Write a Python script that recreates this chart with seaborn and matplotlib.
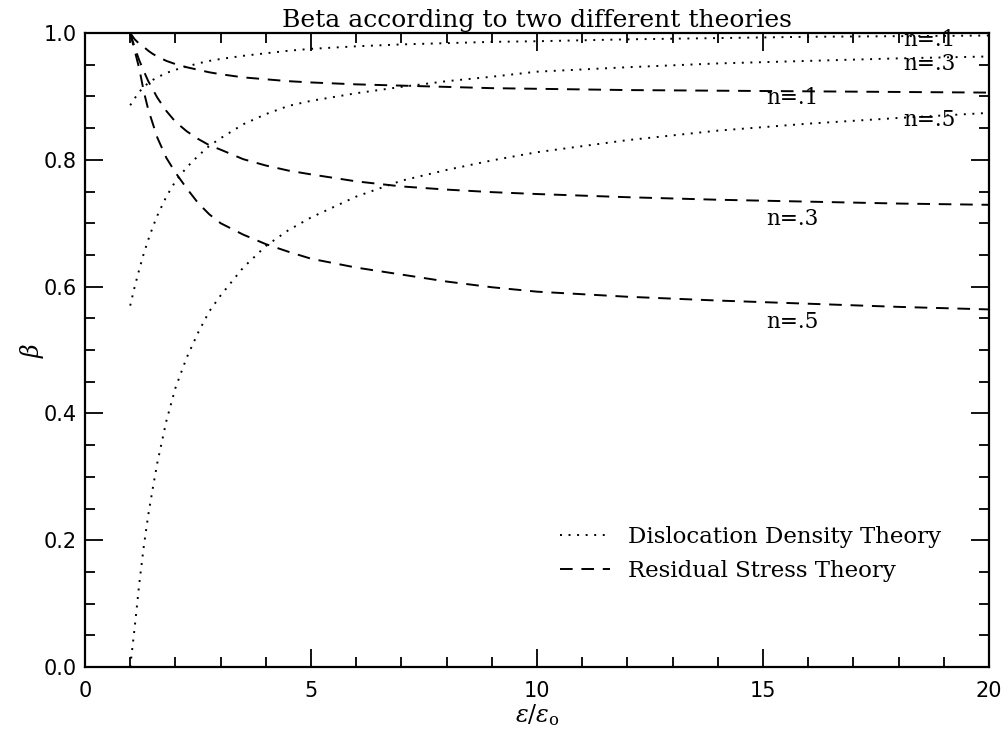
import matplotlib
matplotlib.use("Agg")
import matplotlib.pyplot as plt
import seaborn as sns
import pandas as pd
import numpy as np

# ---- data ----
x_vals = [1, 1.1, 1.2, 1.3, 1.4, 1.5, 1.6, 1.8, 2, 2.25, 2.5, 2.75, 3, 3.5, 4, 4.5,
          5, 6, 7, 8, 9, 10, 12, 14, 16, 18, 20]

disl_n1 = [0.886, 0.897, 0.907, 0.915, 0.921, 0.926, 0.930, 0.937, 0.942, 0.947, 0.952, 0.956, 0.959, 0.964,
           0.968, 0.972, 0.975, 0.979, 0.982, 0.984, 0.986, 0.987, 0.990, 0.992, 0.994, 0.995, 0.996]
disl_n3 = [0.570, 0.600, 0.627, 0.652, 0.674, 0.694, 0.712, 0.742, 0.766, 0.788, 0.806, 0.822, 0.834, 0.856,
           0.872, 0.885, 0.893, 0.905, 0.915, 0.924, 0.931, 0.939, 0.946, 0.952, 0.956, 0.960, 0.963]
disl_n5 = [0.000, 0.063, 0.131, 0.190, 0.240, 0.282, 0.322, 0.388, 0.440, 0.488, 0.527, 0.561, 0.586, 0.630,
           0.664, 0.689, 0.709, 0.742, 0.767, 0.784, 0.799, 0.812, 0.831, 0.846, 0.857, 0.866, 0.874]

resid_n1 = [1.000, 0.990, 0.983, 0.978, 0.972, 0.967, 0.963, 0.956, 0.951, 0.946, 0.942, 0.938, 0.935, 0.930,
            0.927, 0.924, 0.922, 0.919, 0.917, 0.915, 0.913, 0.912, 0.910, 0.909, 0.908, 0.907, 0.906]
resid_n3 = [1.000, 0.977, 0.957, 0.940, 0.924, 0.911, 0.898, 0.877, 0.860, 0.845, 0.833, 0.823, 0.816, 0.801,
            0.791, 0.783, 0.777, 0.766, 0.758, 0.753, 0.749, 0.746, 0.741, 0.737, 0.734, 0.731, 0.729]
resid_n5 = [1.000, 0.972, 0.944, 0.908, 0.879, 0.857, 0.835, 0.803, 0.780, 0.755, 0.732, 0.714, 0.700, 0.682,
            0.667, 0.655, 0.644, 0.630, 0.619, 0.608, 0.599, 0.592, 0.584, 0.578, 0.573, 0.568, 0.564]

curve_labels = ["n=.1", "n=.3", "n=.5"]
legend_labels = ["Dislocation Density Theory", "Residual Stress Theory"]
title_text = "Beta according to two different theories"
x_ticks = [0, 5, 10, 15, 20]
y_ticks = [0.0, 0.2, 0.4, 0.6, 0.8, 1.0]

# ---- styling ----
sns.set_style("ticks")
plt.rcParams["font.family"] = ["DejaVu Sans"]
plt.rcParams["mathtext.fontset"] = "dejavuserif"
plt.rcParams["text.color"] = "black"
plt.rcParams["axes.labelcolor"] = "black"
plt.rcParams["legend.labelcolor"] = "black"

fig = plt.figure(figsize=(10.08, 7.31), dpi=100)
ax = fig.add_axes([85 / 1008, 64 / 731, 904 / 1008, 634 / 731])

lw = 1.4
dot_style = (0, (1.0, 3.4))
dash_style = (0, (6.5, 4.5))

def draw(yvals, style, label=None):
    df = pd.DataFrame({"x": x_vals, "y": yvals})
    sns.lineplot(data=df, x="x", y="y", ax=ax, color="black", lw=lw,
                 linestyle=style, label=label, legend=False, sort=True,
                 estimator=None, errorbar=None)

draw(disl_n1, dot_style, legend_labels[0])
draw(disl_n3, dot_style)
draw(disl_n5, dot_style)
draw(resid_n1, dash_style, legend_labels[1])
draw(resid_n3, dash_style)
draw(resid_n5, dash_style)

ax.set_xlim(0, 20)
ax.set_ylim(0, 1.0)
ax.set_xticks(x_ticks)
ax.set_xticklabels([str(t) for t in x_ticks])
ax.set_yticks(y_ticks)
ax.set_yticklabels([f"{t:.1f}" for t in y_ticks])
ax.set_xticks(np.arange(0, 20.01, 1), minor=True)
ax.set_yticks(np.arange(0, 1.001, 0.05), minor=True)

ax.tick_params(which="both", direction="in", top=True, right=True,
               colors="black", width=1.3)
ax.tick_params(which="major", length=13)
ax.tick_params(which="minor", length=7)
ax.tick_params(axis="x", which="major", pad=10, labelsize=15)
ax.tick_params(axis="y", which="major", pad=6, labelsize=15)
for sp in ax.spines.values():
    sp.set_visible(True)
    sp.set_linewidth(1.6)
    sp.set_color("black")

ax.set_xlabel(r"$\epsilon/\epsilon_{\rm o}$", fontsize=17, labelpad=1, color="black")
ax.set_ylabel(r"$\beta$", fontsize=17, labelpad=-2, color="black")
ax.set_title(title_text, fontsize=18, family="DejaVu Serif", pad=4, color="black")

serif = dict(fontsize=15.5, family="DejaVu Serif", color="black", va="center", ha="left")
ax.text(18.1, 0.989, curve_labels[0], **serif)
ax.text(18.1, 0.951, curve_labels[1], **serif)
ax.text(18.1, 0.863, curve_labels[2], **serif)
ax.text(15.07, 0.897, curve_labels[0], **serif)
ax.text(15.07, 0.706, curve_labels[1], **serif)
ax.text(15.07, 0.544, curve_labels[2], **serif)

leg = ax.legend(loc="center left", bbox_to_anchor=(0.525, 0.178), frameon=False,
                prop={"family": "DejaVu Serif", "size": 16.5},
                handlelength=2.2, handletextpad=0.8, labelspacing=0.55,
                borderpad=0, borderaxespad=0, labelcolor="black")

fig.savefig("out.png", dpi=100, facecolor="white")
